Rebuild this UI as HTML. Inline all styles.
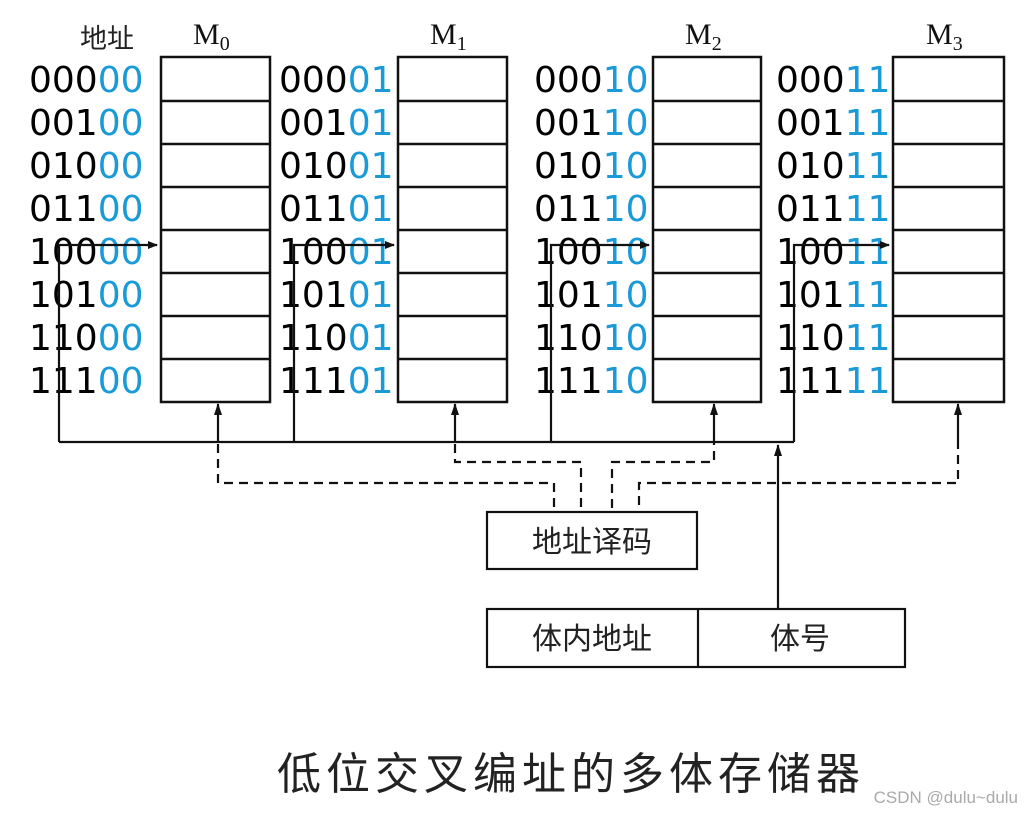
<!DOCTYPE html>
<html><head><meta charset="utf-8"><style>
html,body{margin:0;padding:0;background:#fff;}
svg{display:block}
.d{font-family:"DejaVu Sans",sans-serif;font-size:36px;fill:#000}
.b{fill:#1a9ad6}
.c{font-family:"Liberation Sans","Noto Sans CJK SC",sans-serif;fill:#222}
.m{font-family:"Liberation Serif",serif;font-size:30px;fill:#111}
</style></head><body>
<svg width="1027" height="815" viewBox="0 0 1027 815" xmlns="http://www.w3.org/2000/svg">
<rect width="1027" height="815" fill="#fff"/>
<defs><marker id="a" markerWidth="10" markerHeight="12" refX="5" refY="1" orient="0" markerUnits="userSpaceOnUse">
<path d="M1,12 L5,0 L9,12 Z" fill="#111"/></marker>
<marker id="r" markerWidth="10" markerHeight="10" refX="9" refY="5" orient="auto" markerUnits="userSpaceOnUse">
<path d="M0,1 L10,5 L0,9 Z" fill="#111"/></marker></defs>

<text x="80" y="48" class="c" font-size="27">地址</text>
<text x="193" y="44" class="m">M<tspan font-size="20" dy="6">0</tspan></text>
<text x="430" y="44" class="m">M<tspan font-size="20" dy="6">1</tspan></text>
<text x="685" y="44" class="m">M<tspan font-size="20" dy="6">2</tspan></text>
<text x="926" y="44" class="m">M<tspan font-size="20" dy="6">3</tspan></text>

<g fill="none" stroke="#111" stroke-width="2.5">
<rect x="161" y="57" width="109" height="345"/>
<rect x="398" y="57" width="109" height="345"/>
<rect x="653" y="57" width="108" height="345"/>
<rect x="893" y="57" width="111" height="345"/>
<path d="M161,101H270M161,144H270M161,187H270M161,230H270M161,273H270M161,316H270M161,359H270"/>
<path d="M398,101H507M398,144H507M398,187H507M398,230H507M398,273H507M398,316H507M398,359H507"/>
<path d="M653,101H761M653,144H761M653,187H761M653,230H761M653,273H761M653,316H761M653,359H761"/>
<path d="M893,101H1004M893,144H1004M893,187H1004M893,230H1004M893,273H1004M893,316H1004M893,359H1004"/>
</g>

<g class="d">
<text x="29" y="92">000<tspan class="b">00</tspan></text>
<text x="29" y="135">001<tspan class="b">00</tspan></text>
<text x="29" y="178">010<tspan class="b">00</tspan></text>
<text x="29" y="221">011<tspan class="b">00</tspan></text>
<text x="29" y="264">100<tspan class="b">00</tspan></text>
<text x="29" y="307">101<tspan class="b">00</tspan></text>
<text x="29" y="350">110<tspan class="b">00</tspan></text>
<text x="29" y="393">111<tspan class="b">00</tspan></text>

<text x="279" y="92">000<tspan class="b">01</tspan></text>
<text x="279" y="135">001<tspan class="b">01</tspan></text>
<text x="279" y="178">010<tspan class="b">01</tspan></text>
<text x="279" y="221">011<tspan class="b">01</tspan></text>
<text x="279" y="264">100<tspan class="b">01</tspan></text>
<text x="279" y="307">101<tspan class="b">01</tspan></text>
<text x="279" y="350">110<tspan class="b">01</tspan></text>
<text x="279" y="393">111<tspan class="b">01</tspan></text>

<text x="534" y="92">000<tspan class="b">10</tspan></text>
<text x="534" y="135">001<tspan class="b">10</tspan></text>
<text x="534" y="178">010<tspan class="b">10</tspan></text>
<text x="534" y="221">011<tspan class="b">10</tspan></text>
<text x="534" y="264">100<tspan class="b">10</tspan></text>
<text x="534" y="307">101<tspan class="b">10</tspan></text>
<text x="534" y="350">110<tspan class="b">10</tspan></text>
<text x="534" y="393">111<tspan class="b">10</tspan></text>

<text x="776" y="92">000<tspan class="b">11</tspan></text>
<text x="776" y="135">001<tspan class="b">11</tspan></text>
<text x="776" y="178">010<tspan class="b">11</tspan></text>
<text x="776" y="221">011<tspan class="b">11</tspan></text>
<text x="776" y="264">100<tspan class="b">11</tspan></text>
<text x="776" y="307">101<tspan class="b">11</tspan></text>
<text x="776" y="350">110<tspan class="b">11</tspan></text>
<text x="776" y="393">111<tspan class="b">11</tspan></text>
</g>

<g fill="none" stroke="#111" stroke-width="2.2">
<path d="M59,442V245H157" marker-end="url(#r)"/>
<path d="M294,442V245H394" marker-end="url(#r)"/>
<path d="M551,442V245H649" marker-end="url(#r)"/>
<path d="M794,442V245H889" marker-end="url(#r)"/>
<path d="M59,442H794"/>
<path d="M778,609V445" marker-end="url(#a)"/>
<path d="M218,442V404" marker-end="url(#a)"/>
<path d="M455,442V404" marker-end="url(#a)"/>
<path d="M714,436V404" marker-end="url(#a)"/>
<path d="M958,440V404" marker-end="url(#a)"/>
</g>
<g fill="none" stroke="#111" stroke-width="2.2" stroke-dasharray="9,6">
<path d="M218,444V483H554V512"/>
<path d="M455,444V462H581V512"/>
<path d="M714,436V462H612V512"/>
<path d="M958,440V483H639V512"/>
</g>

<g fill="#fff" stroke="#111" stroke-width="2.2">
<rect x="487" y="512" width="210" height="57"/>
<rect x="487" y="609" width="418" height="58"/>
<path d="M698,609V667"/>
</g>
<g class="c" font-size="30" text-anchor="middle">
<text x="592" y="552">地址译码</text>
<text x="592" y="649">体内地址</text>
<text x="800" y="649">体号</text>
</g>

<text x="277" y="789" class="c" font-size="44" letter-spacing="5">低位交叉编址的多体存储器</text>
<text x="1018" y="803" font-family="Liberation Sans,sans-serif" font-size="17" fill="#aaa" text-anchor="end">CSDN @dulu~dulu</text>
</svg>
</body></html>
